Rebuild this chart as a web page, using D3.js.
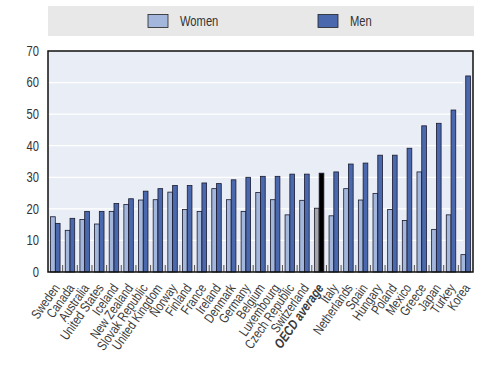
<!DOCTYPE html>
<html>
<head>
<meta charset="utf-8">
<script src="https://cdn.jsdelivr.net/npm/d3@7"></script>
<style>
  body { margin: 0; background: #fff; }
  text { font-family: "Liberation Sans", Arial, sans-serif; }
</style>
</head>
<body>
<div id="chart"></div>
<script>
/////////////// data ///////////////
var countries = ["Sweden", "Canada", "Australia", "United States", "Iceland", "New Zealand",
  "Slovak Republic", "United Kingdom", "Norway", "Finland", "France", "Ireland", "Denmark",
  "Germany", "Belgium", "Luxembourg", "Czech Republic", "Switzerland", "OECD average",
  "Italy", "Netherlands", "Spain", "Hungary", "Poland", "Mexico", "Greece", "Japan", "Turkey", "Korea"];
var women = [17.5, 13.2, 16.6, 15.2, 19.2, 21.4, 22.8, 22.9, 25.3, 19.8, 19.2, 26.4, 22.9,
  19.2, 25.2, 22.9, 18.1, 22.7, 20.2, 17.8, 26.4, 22.8, 24.9, 19.8, 16.3, 31.7, 13.5, 18.1, 5.5];
var men = [15.4, 17.0, 19.2, 19.2, 21.7, 23.2, 25.6, 26.4, 27.4, 27.4, 28.2, 28.0, 29.2,
  30.0, 30.3, 30.3, 31.0, 31.0, 31.3, 31.7, 34.2, 34.5, 37.0, 37.0, 39.2, 46.3, 47.1, 51.3, 62.1];
var yTicks = [0, 10, 20, 30, 40, 50, 60, 70];
var seriesNames = ["Women", "Men"];

var W = 500, H = 375;
var margin = { top: 51, right: 27, bottom: 103, left: 48 },
  width = W - margin.left - margin.right,
  height = H - margin.top - margin.bottom;

var colWomen = "#a3b7dc", colMen = "#4a68ad";
var avgName = "OECD average";
var narrow = 0.8; // squeeze text horizontally, no narrow font installed

var svg = d3.select("#chart").append("svg")
  .attr("width", W).attr("height", H);

//////// legend box ////////
svg.append("rect")
  .attr("x", 48).attr("y", 6).attr("width", 426).attr("height", 30)
  .attr("fill", "#e8e8e8");

var legX = [148, 318];
seriesNames.forEach(function (s, i) {
  svg.append("rect")
    .attr("x", legX[i]).attr("y", 14.5).attr("width", 20).attr("height", 13)
    .attr("fill", i === 0 ? colWomen : colMen)
    .attr("stroke", "#222").attr("stroke-width", 0.8);
  svg.append("text")
    .attr("transform", "translate(" + (legX[i] + 32) + ",26) scale(" + narrow + ",1)")
    .attr("font-size", 14).attr("fill", "#333")
    .text(s);
});

var g = svg.append("g")
  .attr("transform", "translate(" + margin.left + "," + margin.top + ")");

//////// scales ////////
var x = d3.scaleBand().domain(countries).range([0, width]).paddingInner(0).paddingOuter(0);
var y = d3.scaleLinear().domain([0, 70]).range([height, 0]);
var inner = d3.scaleBand().domain(seriesNames).range([2.5, x.bandwidth() - 2.5]).padding(0.02);

// plot background
g.append("rect").attr("width", width).attr("height", height).attr("fill", "#e9edf5");

// gridlines
g.selectAll(".grid").data(yTicks.filter(function (d) { return d > 0 && d < 70; }))
  .enter().append("line")
  .attr("x1", 0).attr("x2", width - 10)
  .attr("y1", function (d) { return y(d); }).attr("y2", function (d) { return y(d); })
  .attr("stroke", "#fff").attr("stroke-width", 1.2);

// bottom ticks between groups
g.selectAll(".gtick").data(countries.slice(1))
  .enter().append("line")
  .attr("x1", function (d) { return x(d); }).attr("x2", function (d) { return x(d); })
  .attr("y1", height).attr("y2", height - 7)
  .attr("stroke", "#555").attr("stroke-width", 1);

// bars
var rows = countries.map(function (c, i) { return { c: c, w: women[i], m: men[i] }; });

g.selectAll(".bw").data(rows).enter().append("rect")
  .attr("x", function (d) { return x(d.c) + inner("Women"); })
  .attr("width", inner.bandwidth())
  .attr("y", function (d) { return y(d.w); })
  .attr("height", function (d) { return height - y(d.w); })
  .attr("fill", function (d) { return d.c === avgName ? "#a6a6a6" : colWomen; })
  .attr("stroke", "#1a1a2e").attr("stroke-width", 0.8);

g.selectAll(".bm").data(rows).enter().append("rect")
  .attr("x", function (d) { return x(d.c) + inner("Men"); })
  .attr("width", inner.bandwidth())
  .attr("y", function (d) { return y(d.m); })
  .attr("height", function (d) { return height - y(d.m); })
  .attr("fill", function (d) { return d.c === avgName ? "#000" : colMen; })
  .attr("stroke", "#1a1a2e").attr("stroke-width", 0.8);

// frame
g.append("rect").attr("width", width).attr("height", height)
  .attr("fill", "none").attr("stroke", "#111").attr("stroke-width", 1.5);

// y axis labels
g.selectAll(".ylab").data(yTicks).enter().append("text")
  .attr("transform", function (d) { return "translate(-9," + y(d) + ") scale(" + narrow + ",1)"; })
  .attr("dy", "0.35em").attr("text-anchor", "end")
  .attr("font-size", 14).attr("fill", "#333")
  .text(function (d) { return d; });

// x labels rotated
g.selectAll(".xlab").data(countries).enter().append("text")
  .attr("transform", function (d) {
    return "translate(" + (x(d) + x.bandwidth() / 2 + 5) + "," + (height + 16) + ") rotate(-55) scale(" + narrow + ",1)";
  })
  .attr("text-anchor", "end")
  .attr("font-size", 13.5).attr("fill", "#3a3a3a")
  .attr("font-weight", function (d) { return d === avgName ? "bold" : "normal"; })
  .attr("font-style", function (d) { return d === avgName ? "italic" : "normal"; })
  .text(function (d) { return d; });
</script>
</body>
</html>
